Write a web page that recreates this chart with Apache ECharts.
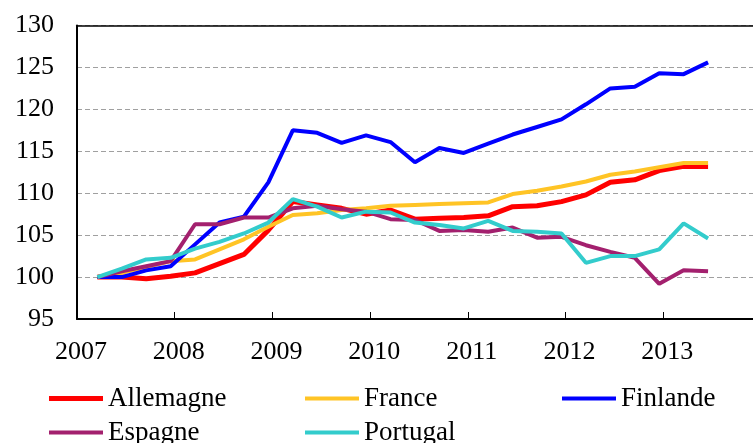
<!DOCTYPE html>
<html>
<head>
    <meta charset="utf-8">
    <title>Indices 2007-2013</title>
    <script src="https://cdn.jsdelivr.net/npm/echarts@6/dist/echarts.min.js"></script>
    <style>
        html, body { margin: 0; padding: 0; background: #fff; }
    </style>
</head>
<body>
    <div id="main" style="width: 753px;height:443px;"></div>
    <script type="text/javascript">
        // trimestres (T1 2007 -> T2 2013)
        var quarters = ['2007T1','2007T2','2007T3','2007T4','2008T1','2008T2','2008T3','2008T4',
                        '2009T1','2009T2','2009T3','2009T4','2010T1','2010T2','2010T3','2010T4',
                        '2011T1','2011T2','2011T3','2011T4','2012T1','2012T2','2012T3','2012T4',
                        '2013T1','2013T2'];
        var yearLabels = [2007, 2008, 2009, 2010, 2011, 2012, 2013];

        var allemagne = [100.0, 100.0, 99.8, 100.1, 100.5, 101.6, 102.7, 105.6, 109.0, 108.6, 108.2, 107.5, 108.0,
                         106.9, 107.0, 107.1, 107.3, 108.4, 108.5, 109.0, 109.8, 111.3, 111.6, 112.7, 113.2, 113.2];
        var france    = [100.0, 100.5, 101.2, 101.9, 102.1, 103.3, 104.5, 106.0, 107.4, 107.6, 108.0, 108.2, 108.5,
                         108.6, 108.7, 108.8, 108.9, 109.9, 110.3, 110.8, 111.4, 112.2, 112.6, 113.1, 113.6, 113.6];
        var finlande  = [100.0, 100.0, 100.8, 101.3, 103.9, 106.5, 107.2, 111.3, 117.5, 117.2, 116.0, 116.9, 116.1,
                         113.7, 115.4, 114.8, 115.9, 117.0, 117.9, 118.8, 120.6, 122.5, 122.7, 124.3, 124.2, 125.6];
        var espagne   = [100.0, 100.7, 101.3, 101.9, 106.3, 106.3, 107.1, 107.1, 108.2, 108.5, 108.1, 107.8, 106.9,
                         106.8, 105.5, 105.6, 105.4, 105.9, 104.7, 104.8, 103.8, 103.0, 102.3, 99.2, 100.8, 100.7];
        var portugal  = [100.0, 101.0, 102.1, 102.3, 103.4, 104.2, 105.2, 106.5, 109.3, 108.4, 107.1, 107.8, 107.7,
                         106.5, 106.2, 105.8, 106.7, 105.5, 105.4, 105.2, 101.7, 102.5, 102.5, 103.3, 106.4, 104.6];

        // position d'un trimestre sur l'axe : milieu du dernier mois du trimestre
        function qPos(q) {
            var y = parseInt(q.slice(0, 4), 10);
            var t = parseInt(q.slice(5), 10);
            return y + (t * 3 - 0.5) / 12;
        }
        function pairs(values) {
            return values.map(function (v, i) { return [qPos(quarters[i]), v]; });
        }

        var font = 'Liberation Serif';
        var myChart = echarts.init(document.getElementById('main'));

        function mkSeries(name, color, width, values) {
            return {
                name: name,
                type: 'line',
                xAxisIndex: 0,
                symbol: 'none',
                lineStyle: { color: color, width: width },
                itemStyle: { color: color },
                data: pairs(values)
            };
        }
        function mkLegend(name, left, top, thick) {
            return {
                data: [name],
                left: left,
                top: top,
                padding: 0,
                icon: 'rect',
                itemWidth: 54,
                itemHeight: thick,
                textStyle: { fontFamily: font, fontSize: 27, color: '#000' }
            };
        }

        myChart.setOption({
            animation: false,
            grid: { left: 77, top: 25.5, width: 684, height: 293.5, outerBoundsMode: 'none' },
            legend: [
                mkLegend('Allemagne', 49, 385, 5),
                mkLegend('France', 305, 385, 4),
                mkLegend('Finlande', 562, 385, 4),
                mkLegend('Espagne', 49, 419, 4),
                mkLegend('Portugal', 305, 419, 4)
            ],
            xAxis: [{
                type: 'value',
                min: yearLabels[0],
                max: 2014,
                interval: 1,
                axisLine: { lineStyle: { color: '#000', width: 2 } },
                axisTick: { inside: true, length: 7, lineStyle: { color: '#000', width: 1 } },
                splitLine: { show: false },
                axisLabel: {
                    margin: 20,
                    padding: [0, 0, 0, 8],
                    fontFamily: font,
                    fontSize: 26,
                    color: '#000',
                    formatter: function (v) {
                        return yearLabels.indexOf(v) >= 0 ? String(v) : '';
                    }
                }
            }, {
                type: 'value',
                position: 'top',
                min: 2007,
                max: 2014,
                axisLine: { show: true, lineStyle: { color: '#000', width: 1.5 } },
                axisTick: { show: false },
                axisLabel: { show: false },
                splitLine: { show: false }
            }],
            yAxis: {
                type: 'value',
                min: 95,
                max: 130,
                interval: 5,
                axisLine: { show: true, lineStyle: { color: '#000', width: 2 } },
                axisTick: { show: false },
                splitLine: { lineStyle: { color: '#a0a0a0', width: 1, type: [5, 3] } },
                axisLabel: { margin: 23, fontFamily: font, fontSize: 26, color: '#000' }
            },
            series: [
                mkSeries('Allemagne', '#ff0000', 5, allemagne),
                mkSeries('France', '#ffc425', 4, france),
                mkSeries('Finlande', '#0000ff', 4, finlande),
                mkSeries('Espagne', '#a3206e', 4, espagne),
                mkSeries('Portugal', '#33cccc', 4, portugal)
            ]
        });
    </script>
</body>
</html>
